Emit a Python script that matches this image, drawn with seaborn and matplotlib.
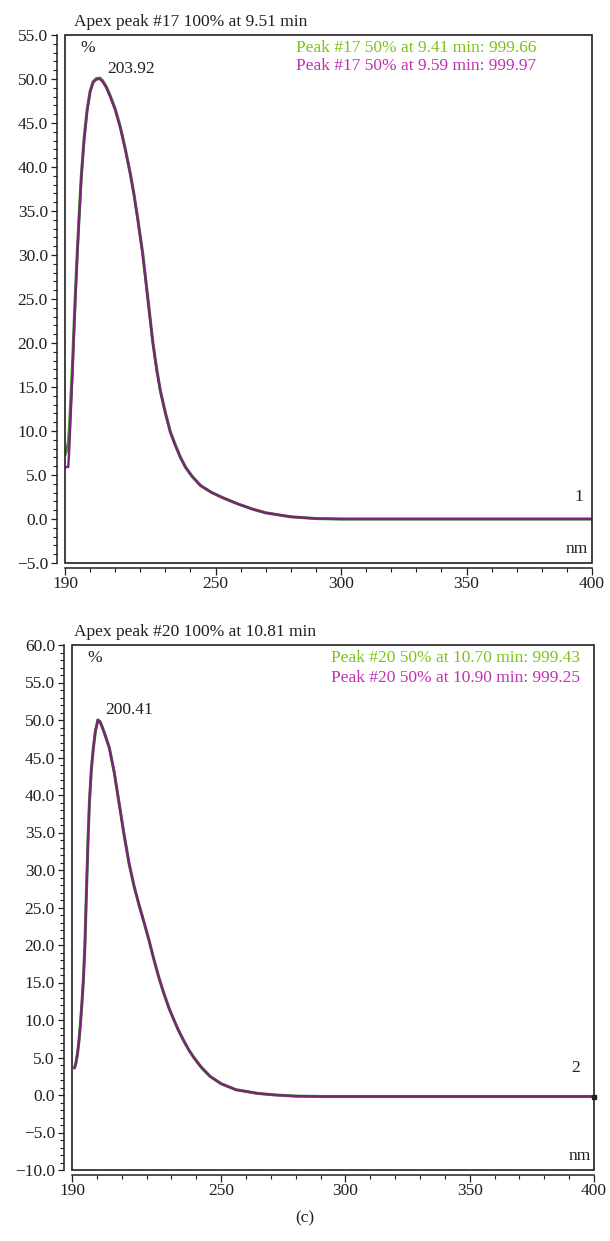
import numpy as np
import pandas as pd
import matplotlib
matplotlib.use("Agg")
import matplotlib.pyplot as plt
import seaborn as sns
from matplotlib.patches import Rectangle
from matplotlib.ticker import MultipleLocator, FixedLocator, FuncFormatter

# --- panel 1 (peak #17) ---
nm_1 = [190.0, 190.6, 191.3, 191.8, 192.3, 192.9, 193.5, 194.2, 194.9, 195.6, 196.5,
        197.6, 198.8, 200.0, 201.2, 202.5, 203.92, 205.0, 206.5, 208.0, 210.0, 212.0,
        214.0, 216.0, 217.5, 219.0, 220.0, 221.0, 223.0, 225.0, 226.5, 228.0, 230.0,
        232.0, 234.0, 236.0, 238.0, 240.5, 244.0, 248.5, 253.0, 259.0, 265.0, 270.0,
        280.0, 290.0, 300.0, 350.0, 400.0]
purple_1 = [5.9, 5.9, 5.9, 8.5, 12.0, 16.0, 20.5, 25.5, 30.0, 34.0, 38.8,
            43.0, 46.3, 48.5, 49.6, 49.95, 50.0, 49.7, 49.0, 48.0, 46.5, 44.5,
            42.0, 39.2, 36.8, 34.0, 32.0, 30.0, 25.0, 20.0, 17.0, 14.5, 12.0,
            9.8, 8.3, 7.0, 5.9, 4.9, 3.8, 3.0, 2.4, 1.7, 1.1, 0.7,
            0.25, 0.05, 0.0, 0.0, 0.0]
green_1 = [7.3, 7.8, 8.6, 10.5, 13.5, 17.0, 21.2, 26.0, 30.4, 34.3, 39.0,
           43.2, 46.5, 48.6, 49.7, 50.05, 50.1, 49.8, 49.1, 48.1, 46.6, 44.6,
           42.1, 39.3, 36.9, 34.1, 32.1, 30.1, 25.1, 20.1, 17.1, 14.6, 12.1,
           9.9, 8.4, 7.0, 5.9, 4.9, 3.8, 3.0, 2.4, 1.7, 1.1, 0.7,
           0.25, 0.05, 0.0, 0.0, 0.0]

# --- panel 2 (peak #20) ---
nm_2 = [191.0, 191.6, 192.2, 192.8, 193.4, 194.0, 194.6, 195.2, 195.8, 196.4, 197.0,
        197.8, 198.6, 199.4, 200.41, 201.2, 202.0, 203.0, 205.0, 207.0, 209.0, 211.0,
        213.0, 215.0, 217.0, 219.0, 221.0, 223.0, 225.0, 227.0, 229.0, 231.0, 233.0,
        235.0, 237.0, 239.0, 242.0, 245.5, 250.0, 256.0, 265.0, 272.0, 280.0, 290.0,
        350.0, 400.0]
purple_2 = [3.6, 4.3, 5.5, 7.2, 9.5, 12.3, 15.5, 20.0, 27.0, 33.5, 39.0,
            43.5, 46.3, 48.5, 50.0, 49.8, 49.2, 48.3, 46.3, 43.0, 38.8, 34.6,
            30.8, 27.8, 25.3, 23.0, 20.6, 18.0, 15.6, 13.5, 11.6, 10.0, 8.5,
            7.2, 6.0, 5.0, 3.7, 2.5, 1.5, 0.7, 0.2, 0.0, -0.15, -0.2,
            -0.2, -0.2]
green_2 = purple_2

panels = [
    dict(nm=nm_1, purple=purple_1, green=green_1, ylim=(-5, 55),
         title="Apex peak #17 100% at 9.51 min",
         leg_green="Peak #17 50% at 9.41 min: 999.66",
         leg_purple="Peak #17 50% at 9.59 min: 999.97",
         peak=(203.92, 50.0), peak_lbl="203.92", tag="1", tag_xy=(394.8, 2.5),
         rect=[65/610, 1-563/1241, 527/610, 528/1241], leg_x=0.438, title_x=0.017,
         leg_dy=0.034),
    dict(nm=nm_2, purple=purple_2, green=green_2, ylim=(-10, 60),
         title="Apex peak #20 100% at 10.81 min",
         leg_green="Peak #20 50% at 10.70 min: 999.43",
         leg_purple="Peak #20 50% at 10.90 min: 999.25",
         peak=(200.41, 50.0), peak_lbl="200.41", tag="2", tag_xy=(392.7, 3.6),
         rect=[72/610, 1-1170/1241, 522/610, 525/1241], leg_x=0.496, title_x=0.004,
         leg_dy=0.038),
]

sns.set_theme(style="ticks")
plt.rcParams['font.family'] = ['Liberation Serif', 'DejaVu Serif']

ink = "#231f20"
green_txt = "#7dc31e"
purple_txt = "#c032b0"
fs = 12.5

fig = plt.figure(figsize=(6.1, 12.41), dpi=100)

ylab = FuncFormatter(lambda v, pos: f"{v:.1f}".replace("-", "\u2212"))

for p in panels:
    ax = fig.add_axes(p["rect"])
    df = pd.DataFrame({"nm": p["nm"], "green": p["green"], "purple": p["purple"]})
    sns.lineplot(data=df, x="nm", y="green", ax=ax, color="#3f8f2a", lw=2.2)
    sns.lineplot(data=df, x="nm", y="purple", ax=ax, color="#7a2478", lw=1.7)

    ax.set_xlim(190, 400)
    ax.set_ylim(*p["ylim"])
    ax.set_xlabel("")
    ax.set_ylabel("")

    # frame box + offset axes
    ax.add_patch(Rectangle((0, 0), 1, 1, transform=ax.transAxes, fill=False,
                           ec=ink, lw=1.2, clip_on=False, zorder=5))
    for s in ["top", "right"]:
        ax.spines[s].set_visible(False)
    ax.spines["left"].set_position(("outward", 6))
    ax.spines["bottom"].set_position(("outward", 3.6))
    for s in ["left", "bottom"]:
        ax.spines[s].set_color(ink)
        ax.spines[s].set_linewidth(1.1)

    ax.yaxis.set_major_locator(MultipleLocator(5))
    ax.yaxis.set_minor_locator(MultipleLocator(1))
    ax.yaxis.set_major_formatter(ylab)
    ax.xaxis.set_major_locator(FixedLocator([190, 250, 300, 350, 400]))
    ax.xaxis.set_minor_locator(FixedLocator(list(range(200, 400, 10))))
    ax.tick_params(axis="y", which="major", length=4.3, width=0.9, color=ink,
                   labelsize=fs, labelcolor=ink, pad=2)
    ax.tick_params(axis="y", which="minor", length=2.6, width=0.8, color=ink)
    ax.tick_params(axis="x", which="major", length=5, width=0.9, color=ink,
                   labelsize=fs, labelcolor=ink, pad=1)
    ax.tick_params(axis="x", which="minor", length=3, width=0.8, color=ink)

    ax.text(p["title_x"], 1.017, p["title"], transform=ax.transAxes,
            ha="left", va="baseline", fontsize=fs, color=ink)
    ax.text(0.03, 0.975, "%", transform=ax.transAxes, ha="left", va="center",
            fontsize=fs, color=ink)
    ax.text(p["leg_x"], 0.975, p["leg_green"], transform=ax.transAxes,
            ha="left", va="center", fontsize=fs, color=green_txt)
    ax.text(p["leg_x"], 0.975 - p["leg_dy"], p["leg_purple"], transform=ax.transAxes,
            ha="left", va="center", fontsize=fs, color=purple_txt)
    ax.annotate(p["peak_lbl"], xy=p["peak"], xytext=(5, 7), textcoords="offset points",
                ha="left", va="center", fontsize=fs, color=ink)
    ax.text(*p["tag_xy"], p["tag"], ha="center", va="center", fontsize=fs, color=ink)
    ax.text(0.993, 0.012, "nm", transform=ax.transAxes, ha="right", va="bottom",
            fontsize=fs, color=ink)

    if p["tag"] == "2":
        ax.plot([400], [p["purple"][-1]], marker="s", ms=2.5, color=ink, clip_on=False)

fig.text(0.5, 1 - 1218/1241, "(c)", ha="center", va="center", fontsize=fs, color=ink)

fig.savefig("out.png", dpi=100)
